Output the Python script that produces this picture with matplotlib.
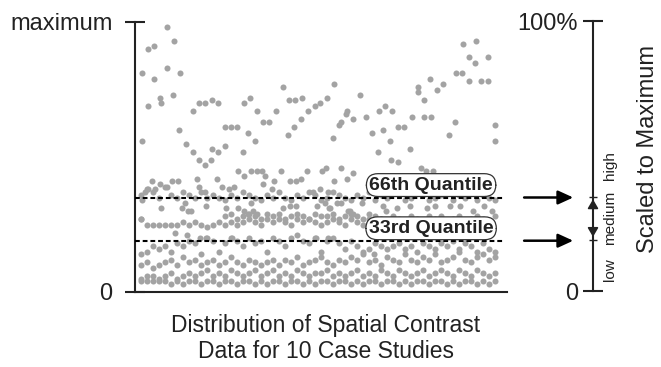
import matplotlib.pyplot as plt
import numpy as np

# all values scaled to the maximum of the 10 case studies (maximum = 1)
# dense bands, one value per position along the x axis
band_low1 = [0.04, 0.04, 0.04, 0.04, 0.04, 0.03, 0.04, 0.03, 0.04, 0.04,
             0.03, 0.04, 0.04, 0.03, 0.04, 0.04, 0.03, 0.04, 0.04, 0.03,
             0.04, 0.03, 0.04, 0.04, 0.03, 0.04, 0.04, 0.03, 0.04, 0.03,
             0.04, 0.04, 0.03, 0.04, 0.04, 0.03, 0.04, 0.03, 0.04, 0.04,
             0.03, 0.04, 0.04, 0.03, 0.04, 0.03, 0.04, 0.04, 0.03, 0.04,
             0.04, 0.03, 0.04, 0.03, 0.04, 0.04, 0.03, 0.04, 0.03, 0.04]
band_low2 = [0.05, 0.06, 0.06, 0.05, 0.06, 0.07, 0.05, 0.06, 0.07, 0.06,
             0.07, 0.08, 0.06, 0.07, 0.06, 0.08, 0.07, 0.06, 0.07, 0.08,
             0.06, 0.07, 0.08, 0.06, 0.07, 0.06, 0.08, 0.07, 0.06, 0.07,
             0.07, 0.08, 0.06, 0.07, 0.06, 0.07, 0.08, 0.06, 0.07, 0.06,
             0.08, 0.07, 0.06, 0.08, 0.07, 0.06, 0.07, 0.08, 0.06, 0.07,
             0.08, 0.07, 0.06, 0.08, 0.07, 0.06, 0.08, 0.07, 0.06, 0.07]
band_b3 = [0.10, 0.11, 0.09, 0.10, 0.11, 0.12, 0.10, 0.13, 0.11, 0.12,
           0.10, 0.11, 0.12, 0.10, 0.11, 0.13, 0.11, 0.10, 0.12, 0.11,
           0.10, 0.11, 0.12, 0.10, 0.12, 0.11, 0.13, 0.10, 0.11, 0.12,
           0.13, 0.11, 0.10, 0.12, 0.11, 0.13, 0.12, 0.14, 0.11, 0.12,
           0.10, 0.13, 0.12, 0.11, 0.14, 0.12, 0.11, 0.13, 0.12, 0.14,
           0.11, 0.12, 0.13, 0.15, 0.12, 0.11, 0.13, 0.14, 0.12, 0.13]
band_b4 = [0.14, 0.15, 0.17, 0.16, 0.17, 0.15, 0.18, 0.17, 0.19, 0.18,
           0.14, 0.20, 0.19, 0.15, 0.18, 0.20, 0.19, 0.17, 0.20, 0.18,
           0.19, 0.15, 0.20, 0.19, 0.17, 0.20, 0.21, 0.19, 0.18, 0.20,
           0.15, 0.19, 0.20, 0.18, 0.16, 0.19, 0.17, 0.15, 0.16, 0.18,
           0.17, 0.16, 0.17, 0.18, 0.16, 0.17, 0.15, 0.18, 0.17, 0.16,
           0.18, 0.17, 0.19, 0.16, 0.18, 0.17, 0.15, 0.18, 0.16, 0.15]
band_mid = [0.27, 0.25, 0.25, 0.25, 0.25, 0.25, 0.25, 0.26, 0.25, 0.26,
            0.25, 0.24, 0.25, 0.26, 0.25, 0.26, 0.25, 0.26, 0.27, 0.26,
            0.25, 0.27, 0.26, 0.27, 0.26, 0.25, 0.27, 0.26, 0.27, 0.26,
            0.25, 0.26, 0.27, 0.26, 0.25, 0.27, 0.26, 0.25, 0.27, 0.26,
            0.27, 0.26, 0.28, 0.27, 0.26, 0.28, 0.27, 0.26, 0.28, 0.27,
            0.28, 0.26, 0.27, 0.28, 0.26, 0.27, 0.28, 0.27, 0.26, 0.28]
band_hi = [0.36, 0.38, 0.37, 0.35, 0.39, 0.36, 0.35, 0.37, 0.36, 0.35,
           0.37, 0.35, 0.36, 0.35, 0.34, 0.36, 0.35, 0.37, 0.36, 0.35,
           0.34, 0.36, 0.35, 0.37, 0.35, 0.34, 0.36, 0.35, 0.37, 0.36,
           0.34, 0.35, 0.37, 0.36, 0.35, 0.34, 0.36, 0.35, 0.37, 0.34,
           0.36, 0.35, 0.37, 0.36, 0.34, 0.35, 0.37, 0.36, 0.34, 0.35,
           0.36, 0.37, 0.34, 0.36, 0.35, 0.37, 0.34, 0.36, 0.35, 0.34]
mid2_pos = [14, 15, 16, 17, 18, 19, 20, 21, 22, 23, 24, 25, 26, 27,
            28, 29, 30, 31, 32, 33, 34, 35, 36, 37, 38, 39, 40]
mid2_val = [0.28, 0.29, 0.27, 0.28, 0.29, 0.28, 0.27, 0.29, 0.28, 0.29,
            0.27, 0.28, 0.29, 0.28, 0.27, 0.29, 0.28, 0.28, 0.29, 0.27,
            0.28, 0.29, 0.28, 0.27, 0.29, 0.28, 0.27]

# scattered values above the bands
upper_pos = [4.4, 1.2, 2.2, 5.5, 0.1, 4.3, 2.1, 6.5, 1.1, 3.2, 3.3, 5.4, 8.7, 9.7,
             10.7, 11.8, 12.8, 6.4, 7.5, 8.6, 0.1, 14.0, 15.0, 16.0, 11.9, 12.9,
             14.0, 17.1, 18.2, 19.3, 20.3, 21.4, 17.9, 19.0, 17.0, 22.5, 23.6,
             24.6, 25.7, 26.8, 24.5, 25.5, 26.6, 27.9, 29.0, 29.8, 9.7, 10.7,
             11.6, 16.1, 17.2, 18.3, 19.4, 31.0, 36.5, 33.0, 33.4, 34.1, 34.3,
             35.3, 32.0, 37.5, 39.6, 38.5, 39.5, 32.2, 40.7, 41.8, 40.4, 41.5,
             42.8, 43.9, 45.1, 46.1, 46.1, 48.2, 47.2, 47.2, 48.3, 49.3, 50.4,
             52.5, 53.5, 53.6, 55.8, 54.7, 55.7, 57.9, 54.7, 56.7, 57.8, 44.8,
             52.4, 51.4, 59.0, 59.0, 41.7, 42.8, 46.7, 47.5, 48.6]
upper_val = [0.98, 0.90, 0.91, 0.93, 0.81, 0.83, 0.79, 0.81, 0.69, 0.72, 0.70, 0.73,
             0.67, 0.70, 0.70, 0.71, 0.70, 0.60, 0.55, 0.52, 0.56, 0.61, 0.61, 0.61,
             0.53, 0.52, 0.54, 0.70, 0.72, 0.67, 0.63, 0.63, 0.59, 0.56, 0.52, 0.67,
             0.76, 0.71, 0.71, 0.72, 0.58, 0.61, 0.64, 0.67, 0.69, 0.70, 0.49, 0.47,
             0.49, 0.45, 0.43, 0.45, 0.45, 0.72, 0.73, 0.62, 0.63, 0.66, 0.67, 0.64,
             0.57, 0.65, 0.67, 0.59, 0.52, 0.77, 0.69, 0.67, 0.60, 0.56, 0.61, 0.61,
             0.65, 0.76, 0.74, 0.79, 0.71, 0.65, 0.65, 0.75, 0.77, 0.81, 0.81, 0.92,
             0.93, 0.87, 0.85, 0.87, 0.78, 0.78, 0.78, 0.53, 0.63, 0.58, 0.62, 0.56,
             0.49, 0.48, 0.46, 0.45, 0.45]

# scattered values between the bands
scatter_pos = [1.9, 3.2, 4.3, 5.1, 6.2, 1.2, 2.3, 9.4, 9.6, 10.7, 12.6, 13.5, 14.6,
               15.5, 0.7, 20.2, 20.6, 20.3, 22.2, 23.3, 21.8, 24.8, 25.8, 26.7, 27.7,
               30.1, 30.9, 32.2, 33.4, 34.4, 35.3, 29.8, 31.2, 28.7, 49.2,
               3.4, 6.8, 7.3, 7.9, 8.4, 10.8, 14.1, 16.2, 17.1, 17.9, 18.6, 19.3,
               18.4, 0.0, 23.7, 24.8, 25.9, 31.3, 32.6, 33.4, 34.5, 29.3, 30.7,
               31.5, 34.8, 35.4, 36.8, 40.4, 40.9, 42.6, 44.8, 47.6, 49.0, 51.5,
               53.2, 55.4, 57.1, 58.5, 0.1,
               5.7, 7.6, 9.8, 10.9, 15.1, 29.2, 31.2, 38.9]
scatter_val = [0.41, 0.40, 0.39, 0.41, 0.41, 0.38, 0.38, 0.42, 0.39, 0.37, 0.42, 0.39,
               0.38, 0.39, 0.37, 0.45, 0.43, 0.40, 0.41, 0.45, 0.38, 0.41, 0.41, 0.42,
               0.45, 0.45, 0.46, 0.41, 0.46, 0.42, 0.44, 0.38, 0.37, 0.37, 0.43,
               0.31, 0.31, 0.33, 0.30, 0.30, 0.32, 0.31, 0.31, 0.30, 0.29, 0.30, 0.29,
               0.33, 0.27, 0.31, 0.32, 0.32, 0.31, 0.33, 0.33, 0.30, 0.32, 0.33,
               0.31, 0.30, 0.29, 0.33, 0.32, 0.30, 0.31, 0.32, 0.31, 0.32, 0.32,
               0.32, 0.30, 0.32, 0.30, 0.34,
               0.22, 0.21, 0.20, 0.20, 0.20, 0.20, 0.20, 0.14]

q33 = 0.19
q66 = 0.35

plt.rcParams['font.family'] = ['Liberation Sans', 'DejaVu Sans']

W, H = 661, 367
fig = plt.figure(figsize=(W / 100, H / 100), dpi=100)
ax = fig.add_axes([135 / W, 75 / H, 372 / W, 270 / H])

dot = dict(s=19, c='#a3a3a3', linewidths=0, zorder=2)
pos = np.arange(len(band_low1))
for band in [band_low1, band_low2, band_b3, band_b4, band_mid, band_hi]:
    ax.scatter(pos, band, **dot)
ax.scatter(mid2_pos, mid2_val, **dot)
ax.scatter(upper_pos, upper_val, **dot)
ax.scatter(scatter_pos, scatter_val, **dot)

ax.set_xlim(-1, 61)
ax.set_ylim(0, 1)
ax.spines['top'].set_visible(False)
ax.spines['right'].set_visible(False)
for s in ['left', 'bottom']:
    ax.spines[s].set_linewidth(1.5)
    ax.spines[s].set_color('#222222')
ax.set_xticks([])
ax.set_yticks([0, 1])
ax.set_yticklabels(['0', 'maximum'])
ax.tick_params(axis='y', direction='inout', length=14.4, width=1.5, pad=9,
               labelsize=17, color='#222222', labelcolor='#222222')

# quantile lines and labels
for q, name in [(q66, '66th Quantile'), (q33, '33rd Quantile')]:
    ax.axhline(q, xmin=0, xmax=0.99, color='black', lw=1.5,
               ls=(0, (2.3, 1.4)), zorder=3)
    ax.text(0.796, q + 0.046, name, transform=ax.get_yaxis_transform(),
            ha='center', va='center', fontsize=14, fontweight='bold',
            color='#222222', zorder=4,
            bbox=dict(boxstyle='round,pad=0.15,rounding_size=0.6',
                      fc='white', ec='#333333', lw=0.9))
    ax.annotate('', xy=(1.178, q), xytext=(1.046, q),
                xycoords=ax.get_yaxis_transform(), annotation_clip=False,
                arrowprops=dict(arrowstyle='-|>,head_length=0.7,head_width=0.32',
                                color='black', lw=1.8, shrinkA=0, shrinkB=0,
                                mutation_scale=13))

fig.text(326 / W, 1 - 338.5 / H,
         'Distribution of Spatial Contrast\nData for 10 Case Studies',
         ha='center', va='center', fontsize=16.5, linespacing=1.15,
         color='#222222')

# right scale
ax2 = fig.add_axes([593 / W, 76 / H, 68 / W, 270 / H])
ax2.set_ylim(0, 1)
ax2.set_xlim(0, 1)
ax2.patch.set_visible(False)
for s in ['top', 'right', 'bottom']:
    ax2.spines[s].set_visible(False)
ax2.spines['left'].set_linewidth(1.5)
ax2.spines['left'].set_color('#222222')
ax2.set_xticks([])
ax2.set_yticks([0, 1])
ax2.set_yticklabels(['0', '100%'])
ax2.set_yticks([q33, q66], minor=True)
ax2.tick_params(axis='y', which='major', direction='inout', length=14.4,
                width=1.5, pad=3.5, labelsize=17, color='#222222',
                labelcolor='#222222')
ax2.tick_params(axis='y', which='minor', direction='inout', length=6,
                width=1.0, color='#222222')
ax2.annotate('', xy=(0, q66), xytext=(0, q33), xycoords=ax2.get_yaxis_transform(),
             arrowprops=dict(arrowstyle='<|-|>,head_length=0.6,head_width=0.35',
                             color='#222222', lw=1.2, shrinkA=2, shrinkB=2,
                             mutation_scale=9))
ax2.text(0.25, q33 - 0.11, 'low', rotation=90, ha='center', va='center',
         fontsize=11, color='#222222')
ax2.text(0.25, (q33 + q66) / 2, 'medium', rotation=90, ha='center',
         va='center', fontsize=11, color='#222222')
ax2.text(0.25, q66 + 0.115, 'high', rotation=90, ha='center', va='center',
         fontsize=11, color='#222222')
ax2.text(0.81, 0.526, 'Scaled to Maximum', rotation=90, ha='center',
         va='center', fontsize=17, color='#222222')

fig.savefig('out.png', dpi=100)
